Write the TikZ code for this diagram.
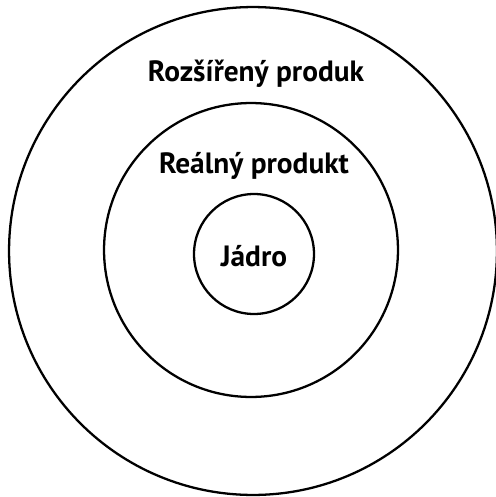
\documentclass[tikz,border=0pt]{standalone}
\usepackage{fontspec}
\setmainfont{PT Sans}
\usepackage{tikz}
\usetikzlibrary{positioning,calc}

\tikzset{
    ring/.style={draw, circle, line width=1.3pt, inner sep=0pt},
    label text/.style={font=\bfseries\fontsize{16.7}{18}\selectfont, inner sep=0pt}
}

\begin{document}
\begin{tikzpicture}[x=0.02cm, y=-0.02cm]
    % page frame
    \useasboundingbox (0,0) rectangle (496,497);

    % Rings
    \node[ring, minimum size=9.76cm] (outer) at (253,251) {};
    \node[ring, minimum size=5.88cm] (middle) at (251,250) {};
    \node[ring, minimum size=2.4cm] (core) at (254,254) {};

    % Labels
    \node[label text] (lblouter) at (256,74) {Rozšířený produk};
    \node[label text] (lblmiddle) at (254,166) {Reálný produkt};
    \node[label text] (lblcore) at (254,256) {Jádro};
\end{tikzpicture}
\end{document}
